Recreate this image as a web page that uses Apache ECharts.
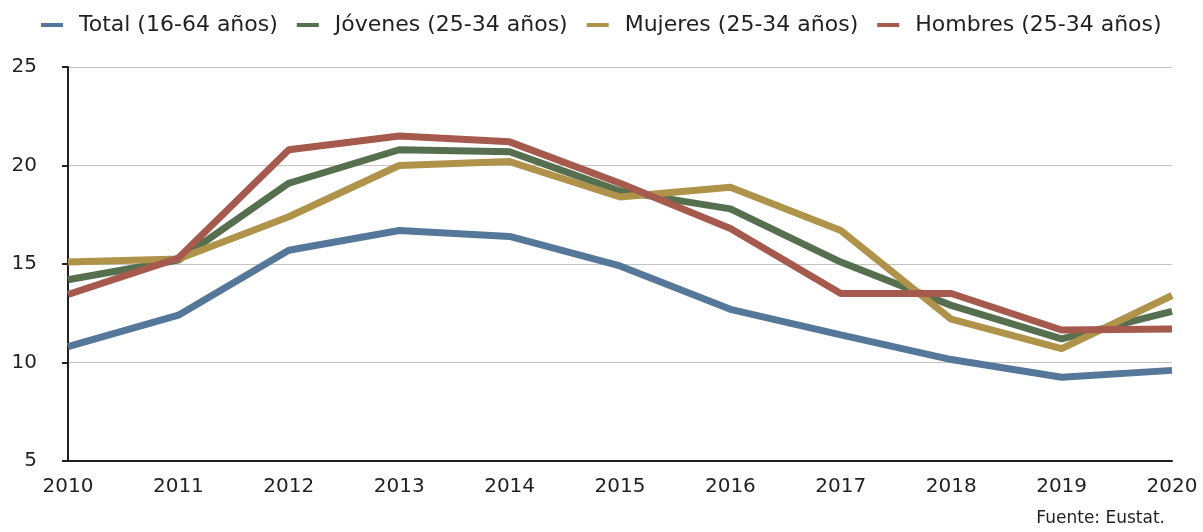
<!DOCTYPE html>
<html><head><meta charset="utf-8">
<script src="https://cdn.jsdelivr.net/npm/echarts@6/dist/echarts.min.js"></script>
<style>html,body{margin:0;padding:0;background:#fff}#c{width:1203px;height:532px}</style>
</head><body><div id="c"></div>
<script>
const years = ['2010','2011','2012','2013','2014','2015','2016','2017','2018','2019','2020'];
const seriesNames = ['Total (16-64 años)','Jóvenes (25-34 años)','Mujeres (25-34 años)','Hombres (25-34 años)'];
const total   = [10.8, 12.4, 15.7, 16.7, 16.4, 14.9, 12.7, 11.4, 10.15, 9.25, 9.6];
const jovenes = [14.2, 15.2, 19.1, 20.8, 20.7, 18.7, 17.8, 15.1, 12.9, 11.2, 12.6];
const mujeres = [15.1, 15.25, 17.4, 20.0, 20.2, 18.4, 18.9, 16.7, 12.2, 10.7, 13.4];
const hombres = [13.45, 15.3, 20.8, 21.5, 21.2, 19.1, 16.8, 13.5, 13.5, 11.65, 11.7];
const yTicks = [5, 25, 5]; // min, max, interval
const source = 'Fuente: Eustat.';
const colors = ['#55789A', '#56704F', '#B0934B', '#A65A4E'];
const FONT = '"DejaVu Sans", "Noto Sans", sans-serif';

const chart = echarts.init(document.getElementById('c'), null, {renderer: 'canvas'});
const data = [total, jovenes, mujeres, hombres];
chart.setOption({
  animation: false,
  color: colors,
  textStyle: {fontFamily: FONT},
  legend: {
    top: 9, left: 36,
    icon: 'rect', itemWidth: 22, itemHeight: 4, itemGap: 19,
    itemStyle: {borderWidth: 0},
    lineStyle: {width: 0},
    textStyle: {fontSize: 22, color: '#231f20', fontFamily: FONT, padding: [0,0,0,11]},
    data: seriesNames
  },
  title: {
    text: source, right: 33, bottom: 0,
    textStyle: {fontSize: 17, fontWeight: 'normal', color: '#231f20', fontFamily: FONT}
  },
  grid: {left: 68, right: 31, top: 67, bottom: 71, containLabel: false},
  xAxis: {
    type: 'category', data: years, boundaryGap: false,
    axisLine: {lineStyle: {color: '#231f20', width: 2}},
    axisTick: {show: false},
    axisLabel: {fontSize: 20, color: '#231f20', margin: 16, fontFamily: FONT},
    splitLine: {show: false}
  },
  yAxis: {
    type: 'value', min: yTicks[0], max: yTicks[1], interval: yTicks[2],
    axisLine: {show: true, lineStyle: {color: '#231f20', width: 2}},
    axisTick: {show: true, length: 6, lineStyle: {color: '#231f20', width: 2}},
    axisLabel: {fontSize: 20, color: '#231f20', margin: 31, fontFamily: FONT},
    splitLine: {lineStyle: {color: '#c4c4c4', width: 1}}
  },
  series: seriesNames.map((n, i) => ({
    name: n, type: 'line', data: data[i],
    symbol: 'none', lineStyle: {width: 7, color: colors[i]},
    itemStyle: {color: colors[i]}
  }))
});
</script></body></html>
